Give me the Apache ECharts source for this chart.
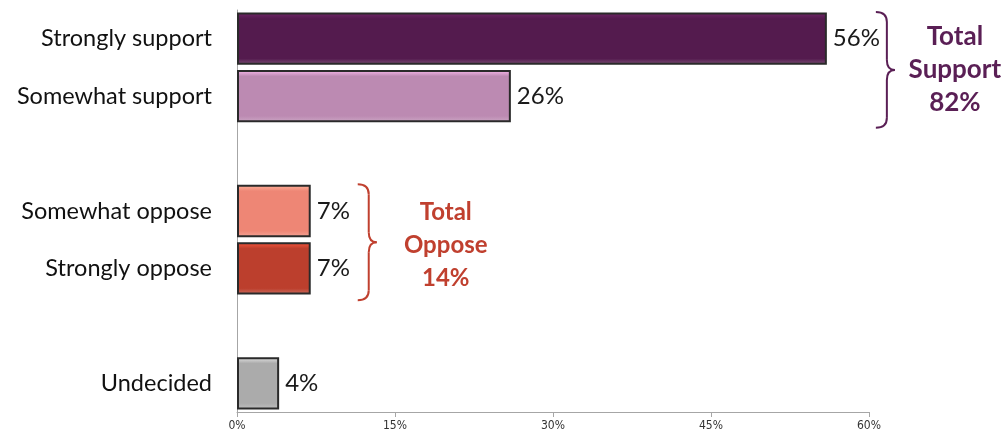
<!DOCTYPE html>
<html>
<head>
<meta charset="utf-8">
<script src="https://cdn.jsdelivr.net/npm/echarts@6/dist/echarts.min.js"></script>
<style>
  html, body { margin: 0; padding: 0; background: #fff; }
  #chart { width: 1008px; height: 436px; }
</style>
</head>
<body>
<div id="chart"></div>
<script>
// categories (empty strings are the gaps between groups)
var categories = ["Strongly support", "Somewhat support", "", "Somewhat oppose", "Strongly oppose", "", "Undecided"];
var values = [56, 26, null, 7, 7, null, 4];
var barColors = ["#541B4E", "#BC8AB2", null, "#EE8675", "#BC3F2D", null, "#ABABAB"];
var xTicks = [0, 15, 30, 45, 60];
var totalSupport = 82;
var totalOppose = 14;

var chart = echarts.init(document.getElementById("chart"));

// little bevel look: light top, base, darker bottom
function bevel(c) {
  return new echarts.graphic.LinearGradient(0, 0, 0, 1, [
    { offset: 0, color: echarts.color.lift(c, -0.35) },
    { offset: 0.12, color: c },
    { offset: 0.88, color: c },
    { offset: 1, color: echarts.color.lift(c, 0.25) }
  ]);
}

var data = values.map(function (v, i) {
  if (v == null) return null;
  return { value: v, itemStyle: { color: bevel(barColors[i]) } };
});

var option = {
  animation: false,
  grid: { left: 237, right: 139, top: 10, bottom: 24 },
  xAxis: {
    type: "value",
    min: xTicks[0],
    max: xTicks[xTicks.length - 1],
    interval: 15,
    splitLine: { show: false },
    axisLine: { show: true, lineStyle: { color: "#A6A6A6", width: 1 } },
    axisTick: { show: true, length: 5, lineStyle: { color: "#A6A6A6" } },
    axisLabel: {
      formatter: "{value}%",
      fontFamily: "Liberation Sans Narrow, DejaVu Sans Condensed, sans-serif",
      fontSize: 12,
      color: "#333",
      margin: 8
    }
  },
  yAxis: {
    type: "category",
    data: categories,
    inverse: true,
    axisLine: { show: true, lineStyle: { color: "#A6A6A6", width: 1 } },
    axisTick: { show: false },
    axisLabel: {
      fontFamily: "Lato, sans-serif",
      fontSize: 23.5,
      color: "#111",
      margin: 25
    }
  },
  series: [{
    type: "bar",
    data: data,
    barCategoryGap: "9%",
    itemStyle: { borderColor: "#2a2a2a", borderWidth: 2 },
    label: {
      show: true,
      position: "right",
      distance: 6,
      formatter: "{c}%",
      fontFamily: "Lato, sans-serif",
      fontSize: 24,
      color: "#1a1a1a"
    }
  }]
};
chart.setOption(option);

// curly brace "}" made of lines and quadratic curves
function braceParts(x, y1, y2, color) {
  var stem = x + 11, tip = x + 19, mid = (y1 + y2) / 2, r = 10;
  var st = { stroke: color, lineWidth: 2, fill: null };
  function curve(a, b, c, d, cx, cy) {
    return { type: "bezierCurve", shape: { x1: a, y1: b, x2: c, y2: d, cpx1: cx, cpy1: cy }, style: st };
  }
  function seg(a, b, c, d) {
    return { type: "line", shape: { x1: a, y1: b, x2: c, y2: d }, style: st };
  }
  return [
    curve(x, y1, stem, y1 + r, stem, y1),
    seg(stem, y1 + r, stem, mid - r),
    curve(stem, mid - r, tip, mid, stem, mid),
    curve(tip, mid, stem, mid + r, stem, mid),
    seg(stem, mid + r, stem, y2 - r),
    curve(stem, y2 - r, x, y2, stem, y2)
  ];
}

function groupBrace(firstIdx, lastIdx, x, textX, dy, size, color, lines) {
  var slot = chart.convertToPixel({ yAxisIndex: 0 }, 1) - chart.convertToPixel({ yAxisIndex: 0 }, 0);
  var y1 = chart.convertToPixel({ yAxisIndex: 0 }, firstIdx) - slot / 2 + 2;
  var y2 = chart.convertToPixel({ yAxisIndex: 0 }, lastIdx) + slot / 2 + 3;
  var mid = (y1 + y2) / 2;
  return braceParts(x, y1, y2, color).concat([{
    type: "text",
    x: textX,
    y: mid + dy,
    style: {
      text: lines.join("\n"),
      fill: color,
      font: "bold " + size + "px Lato, sans-serif",
      align: "center",
      verticalAlign: "middle",
      lineHeight: 33
    }
  }]);
}

var supX = chart.convertToPixel({ xAxisIndex: 0 }, values[0]) + 49;
var oppX = chart.convertToPixel({ xAxisIndex: 0 }, values[3]) + 47;

chart.setOption({
  graphic: [].concat(
    groupBrace(0, 1, supX, supX + 79, 0, 26, "#5A1F55", ["Total", "Support", totalSupport + "%"]),
    groupBrace(3, 4, oppX, oppX + 88, 3, 24, "#C0402F", ["Total", "Oppose", totalOppose + "%"])
  )
});
</script>
</body>
</html>
